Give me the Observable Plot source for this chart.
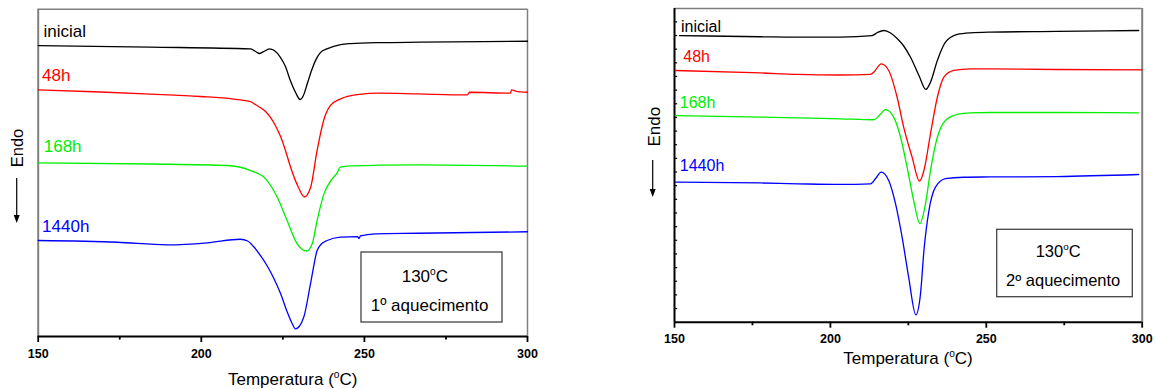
<!DOCTYPE html>
<html><head><meta charset="utf-8">
<script src="https://cdn.jsdelivr.net/npm/d3@7"></script>
<script src="https://cdn.jsdelivr.net/npm/@observablehq/plot@0.6"></script>
<style>
html,body{margin:0;padding:0;background:#fff;}
#wrap{display:flex;width:1156px;height:389px;overflow:hidden;}
#wrap svg{display:block;flex:none;}
</style></head><body><div id="wrap"></div>
<script>
const FONT = "'Liberation Sans', Arial, Helvetica, sans-serif";

// ---- DATA (temperature °C, heat flow in arbitrary units) ----
// Panel 1: 1º aquecimento
const p1_inicial_T = [150,184.4,215.1,216.9,217.8,219.1,220.9,222.4,224.3,225.8,227.3,228.9,230.3,231.3,232.5,233.8,235.0,236.5,238.7,242.7,245.7,254.9,267.2,300];
const p1_inicial_H = [21.33,21.22,21.09,20.86,20.75,20.89,21.09,20.97,20.45,19.79,18.77,17.89,17.38,17.67,18.55,19.50,20.23,20.82,21.11,21.41,21.48,21.55,21.58,21.65];
const p1_48h_T = [150,169.1,184.4,199.8,209.9,215.1,216.6,218.1,219.7,221.2,222.7,224.3,225.8,227.3,229.8,231.6,233.5,235.5,237.5,239.6,242.7,247.8,254.9,266.3,281.6,282.2,294.8,295.1,296.3,300];
const p1_48h_H = [18.09,17.93,17.78,17.60,17.41,17.23,17.01,16.79,16.50,16.06,15.47,14.66,13.64,12.46,10.92,10.23,10.92,13.64,15.84,16.94,17.43,17.74,17.84,17.79,17.72,17.91,17.84,18.09,18.00,17.91];
const p1_168h_T = [150,184.4,208.0,215.1,219.7,223.3,226.3,229.4,232.3,234.0,235.5,237.6,240.1,241.8,242.5,244.7,254.9,266.3,300];
const p1_168h_H = [12.73,12.65,12.54,12.17,11.56,10.21,8.50,6.80,6.27,6.80,8.50,10.46,11.56,12.05,12.41,12.49,12.56,12.59,12.49];
const p1_1440h_T = [150,174.3,189.6,201.9,212.0,214.2,216.0,218.1,220.3,222.1,224.3,226.4,227.7,228.9,231.4,233.5,235.5,236.8,238.6,242.7,247.9,248.3,248.8,253.4,266.3,300];
const p1_1440h_H = [7.04,6.91,6.72,6.87,7.13,7.00,6.60,5.94,5.13,4.33,3.15,1.76,1.03,0.56,1.41,3.89,6.30,6.78,7.04,7.28,7.33,7.18,7.37,7.53,7.57,7.68];

// Panel 2: 2º aquecimento
const p2_inicial_T = [151.6,177.6,189.4,203.2,213.4,215.1,217.1,219.3,221.4,223.4,225.7,228.4,230.6,232.1,234.3,236.9,240.7,244.9,251.3,272.7,298.9];
const p2_inicial_H = [21.00,20.91,20.88,20.89,21.00,21.22,21.37,21.19,20.78,20.27,19.41,18.07,17.05,17.58,19.17,20.51,21.08,21.20,21.25,21.30,21.37];
const p2_48h_T = [150.3,177.6,189.4,203.2,212.9,214.1,216.3,218.7,221.4,223.5,226.2,228.6,230.0,232.1,234.3,236.4,239.6,244.9,251.3,272.7,300];
const p2_48h_H = [18.44,18.26,18.15,18.11,18.15,18.37,18.93,18.44,16.48,14.29,12.09,10.33,11.11,13.80,16.48,17.95,18.44,18.56,18.55,18.51,18.49];
const p2_168h_T = [150.3,177.6,189.4,203.2,213.9,215.4,217.7,220.3,222.5,224.6,226.7,228.7,230.5,232.1,234.3,236.9,240.7,244.9,251.3,272.7,298.8];
const p2_168h_H = [15.14,15.03,14.97,14.90,14.83,15.07,15.57,15.02,13.55,11.36,8.92,7.23,8.67,11.11,13.55,14.78,15.22,15.34,15.36,15.36,15.34];
const p2_1440h_T = [150.3,177.6,189.4,203.2,212.9,214.5,216.3,218.7,220.9,223.0,225.1,227.4,228.9,230.0,231.6,233.7,236.9,242.8,251.3,272.7,298.9];
const p2_1440h_H = [10.26,10.20,10.14,10.09,10.14,10.53,10.99,10.38,8.67,6.23,3.30,0.54,2.08,5.25,8.18,9.89,10.51,10.62,10.64,10.67,10.82];

const seriesNames = ["inicial","48h","168h","1440h"];
const seriesColors = ["#000000","#ff0000","#00ee00","#0000ff"];
const xMajorTicks = [150,200,250,300];
const xMinorTicks = [175,225,275];

// label anchor positions (data coordinates)
const p1_labelT = [151.6,151.2,151.7,151.2];
const p1_labelH = [21.96,18.77,13.51,7.65];
const p2_labelT = [152.1,152.8,151.7,151.7];
const p2_labelH = [21.25,19.05,15.68,11.06];

const rows = (T, H) => T.map((t, i) => ({T: t, H: H[i]}));

function buildPanel(cfg) {
  const curves = cfg.series.map(([T, H], k) =>
    Plot.line(rows(T, H), {x: "T", y: "H", stroke: seriesColors[k], strokeWidth: 1.3, curve: "monotone-x"}));
  const labels = seriesNames.map((n, k) => ({n, T: cfg.labelT[k], H: cfg.labelH[k], c: seriesColors[k]}));
  const tickLen = cfg.tickPx / cfg.unitPx;
  const marks = [
    Plot.ruleY([cfg.yMax], {stroke: "#808080", strokeWidth: 1.5}),
    Plot.ruleX([300], {stroke: "#808080", strokeWidth: cfg.rightW}),
    Plot.ruleX([150], {stroke: cfg.leftColor, strokeWidth: 2}),
    ...curves,
    Plot.ruleY([0], {stroke: "black", strokeWidth: 2}),
    Plot.ruleX(xMajorTicks, {x: d => d, y1: 0, y2: -tickLen, stroke: "black", strokeWidth: 1.8}),
    Plot.ruleX(xMinorTicks, {x: d => d, y1: 0, y2: -tickLen * 0.6, stroke: "black", strokeWidth: 1.8}),
    Plot.text(xMajorTicks, {x: d => d, y: 0, dy: cfg.tickDy, text: d => String(d), fontWeight: "bold", fontSize: 12.5, lineAnchor: "bottom", textAnchor: "middle", fill: "black"}),
    Plot.text(labels, {x: "T", y: "H", text: "n", fill: "c", fontSize: cfg.labelSize, textAnchor: "start", lineAnchor: "bottom"})
  ];
  if (cfg.yTicks) marks.push(Plot.ruleY(cfg.yTicks, {y: d => d, x1: 150, x2: 151, stroke: "black", strokeWidth: 1.2}));
  return Plot.plot({
    width: cfg.width, height: 389,
    marginLeft: cfg.ml, marginRight: cfg.mr, marginTop: cfg.mt, marginBottom: cfg.mb,
    x: {domain: [150, 300], axis: null},
    y: {domain: [0, cfg.yMax], axis: null},
    color: {type: "identity"},
    style: {fontFamily: FONT, background: "white", overflow: "visible"},
    marks
  });
}

function richText(svg, x, y, size, parts) {
  const t = svg.append("text").attr("x", x).attr("y", y).attr("text-anchor", "start")
    .attr("font-family", FONT).attr("font-size", size).attr("fill", "black").attr("font-weight", "normal");
  let up = false;
  for (const [s, sup] of parts) {
    const ts = t.append("tspan").text(s);
    if (sup) { ts.attr("font-size", size * 0.6).attr("dy", -size * 0.41); up = true; }
    else if (up) { ts.attr("dy", size * 0.41); up = false; }
  }
}
function decorate(el, d) {
  const svg = d3.select(el);
  svg.append("text").attr("transform", `translate(${d.endoX},${d.endoY}) rotate(-90)`)
    .attr("text-anchor", "middle").attr("font-family", FONT).attr("font-size", d.endoSize)
    .attr("font-weight", "normal").attr("fill", "black").text("Endo");
  svg.append("line").attr("x1", d.arX).attr("x2", d.arX).attr("y1", d.arY1).attr("y2", d.arY2 - 6)
    .attr("stroke", "black").attr("stroke-width", 1.2);
  svg.append("polygon").attr("points", `${d.arX - 3},${d.arY2 - 8} ${d.arX + 3},${d.arY2 - 8} ${d.arX},${d.arY2}`).attr("fill", "black");
  richText(svg, d.titleX, d.titleY, 17, [["Temperatura (", false], ["o", true], ["C)", false]]);
  svg.append("rect").attr("x", d.box[0]).attr("y", d.box[1]).attr("width", d.box[2] - d.box[0]).attr("height", d.box[3] - d.box[1])
    .attr("fill", "white").attr("stroke", "#444").attr("stroke-width", 1.3);
  richText(svg, d.t1[0], d.t1[1], d.boxSize, [["130", false], ["o", true], ["C", false]]);
  richText(svg, d.t2[0], d.t2[1], d.boxSize, [[d.heat, false]]);
}

const wrap = document.getElementById("wrap");

const left = buildPanel({
  width: 560, ml: 37.7, mr: 33, mt: 8.7, mb: 53, yMax: 24, unitPx: 13.64, tickPx: 6, tickDy: 21.5,
  rightW: 1.5, leftColor: "#808080", labelSize: 17,
  series: [[p1_inicial_T, p1_inicial_H], [p1_48h_T, p1_48h_H], [p1_168h_T, p1_168h_H], [p1_1440h_T, p1_1440h_H]],
  labelT: p1_labelT, labelH: p1_labelH
});
wrap.appendChild(left);
decorate(left, {endoX: 22.5, endoY: 148, endoSize: 16.5, arX: 16.7, arY1: 178, arY2: 223,
  titleX: 228, titleY: 385, box: [361, 252, 502, 322], boxSize: 17,
  t1: [401.7, 281.7], t2: [370.7, 310.7], heat: "1º aquecimento"});

const right = buildPanel({
  width: 596, ml: 114, mr: 14.3, mt: 8, mb: 67.3, yMax: 22.98, unitPx: 13.65, tickPx: 6, tickDy: 20.3,
  rightW: 2, leftColor: "black", labelSize: 16,
  series: [[p2_inicial_T, p2_inicial_H], [p2_48h_T, p2_48h_H], [p2_168h_T, p2_168h_H], [p2_1440h_T, p2_1440h_H]],
  labelT: p2_labelT, labelH: p2_labelH, yTicks: d3.range(1, 23)
});
wrap.appendChild(right);
decorate(right, {endoX: 100, endoY: 126.7, endoSize: 17, arX: 92.7, arY1: 160, arY2: 197,
  titleX: 283.3, titleY: 364, box: [436.7, 229.3, 572.3, 296.7], boxSize: 16.5,
  t1: [475.7, 256.7], t2: [446, 285.7], heat: "2º aquecimento"});
</script></body></html>
